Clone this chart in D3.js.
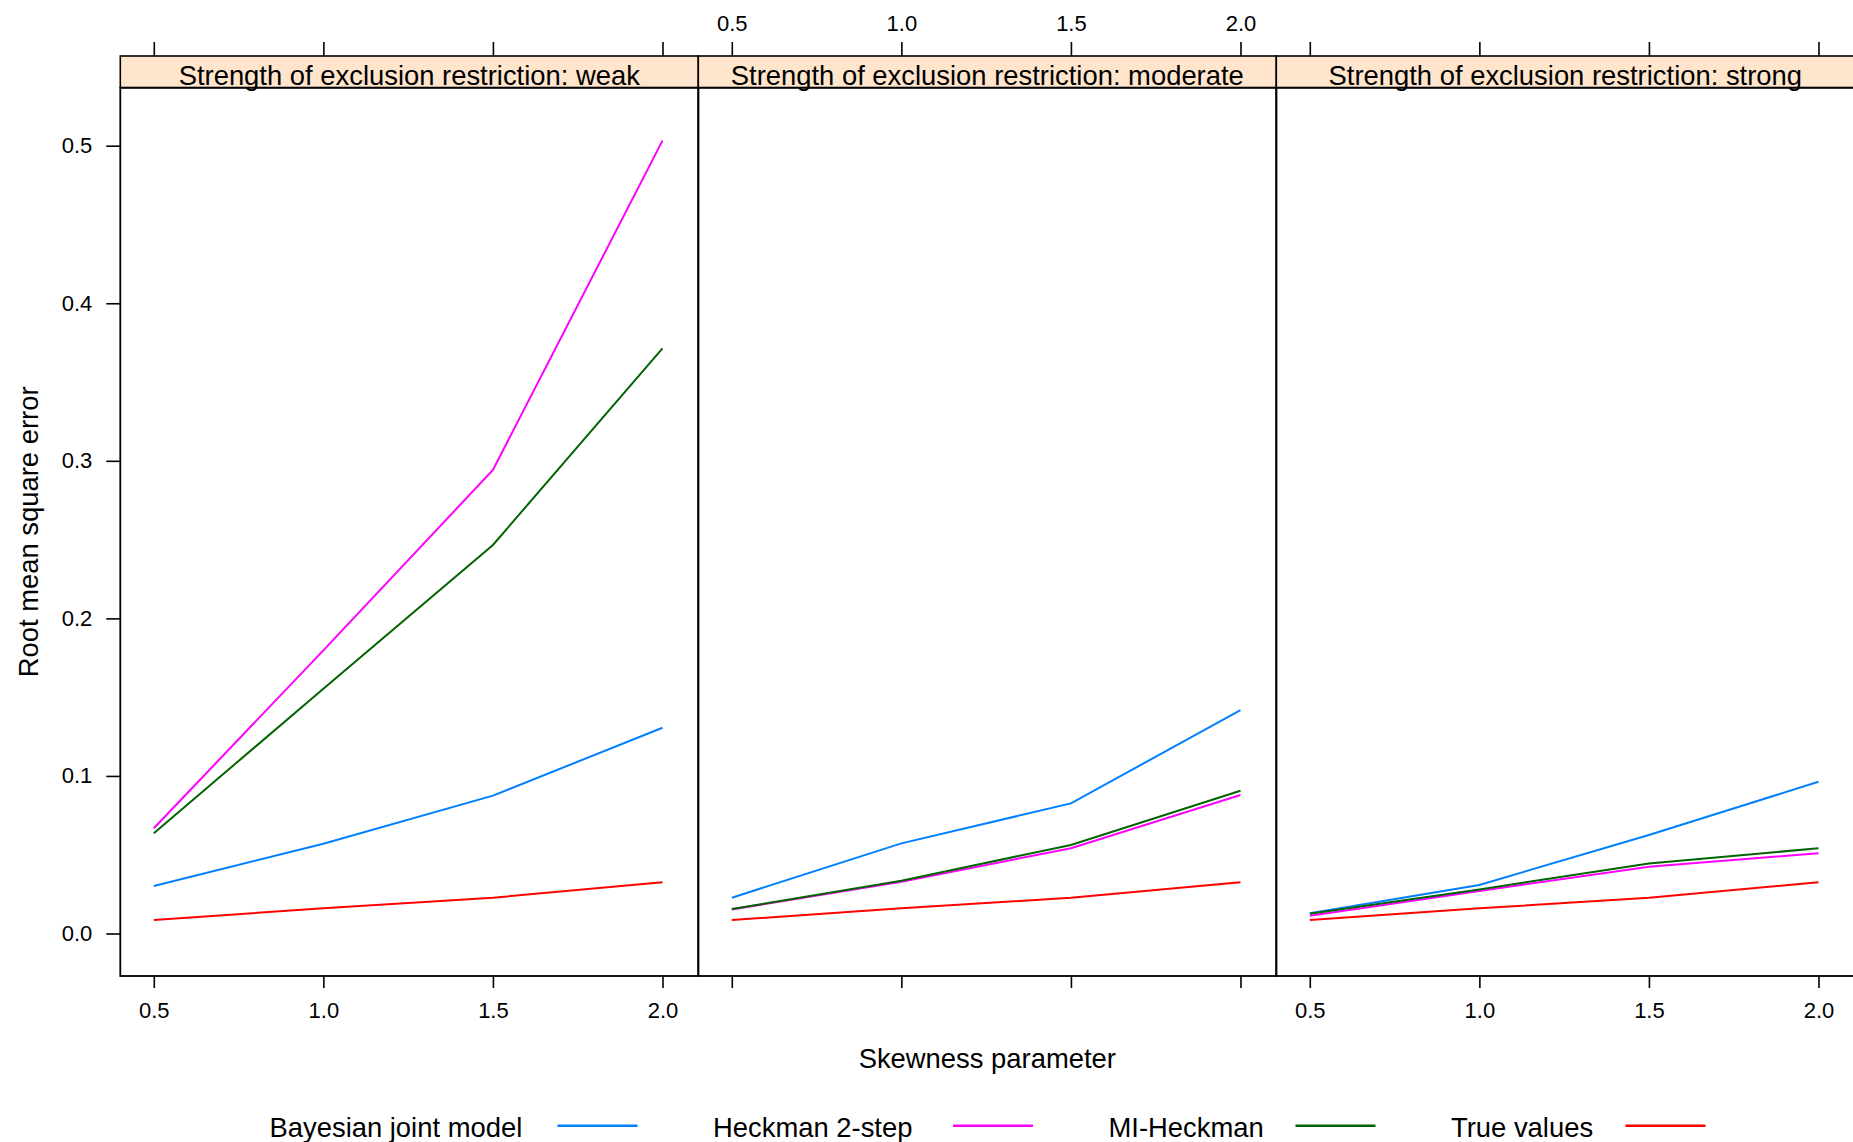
<!DOCTYPE html>
<html>
<head>
<meta charset="utf-8">
<script src="https://cdn.jsdelivr.net/npm/d3@7"></script>
<style>
  body { margin: 0; background: #fff; }
  text { font-family: "Liberation Sans", Arial, sans-serif; fill: #000; }
</style>
</head>
<body>
<svg id="chart" width="1853" height="1142"></svg>
<script>
// data
const skewness = [0.5, 1.0, 1.5, 2.0];
const strengths = ['weak', 'moderate', 'strong'];
const methods = ['Bayesian joint model', 'Heckman 2-step', 'MI-Heckman', 'True values'];
const colors = ['#0080ff', '#ff00ff', '#006400', '#ff0000'];

// one row per strength: weak, moderate, strong
const bayesian = [
  [0.0301, 0.0570, 0.0875, 0.1306],
  [0.0227, 0.0572, 0.0826, 0.1418],
  [0.0128, 0.0308, 0.0625, 0.0963]
];
const heckman = [
  [0.0668, 0.1797, 0.2942, 0.5032],
  [0.0153, 0.0329, 0.0541, 0.0879],
  [0.0113, 0.0270, 0.0424, 0.0509]
];
const miHeckman = [
  [0.0636, 0.1554, 0.2466, 0.3714],
  [0.0155, 0.0335, 0.0562, 0.0906],
  [0.0125, 0.0280, 0.0445, 0.0541]
];
const trueValues = [
  [0.0086, 0.0160, 0.0227, 0.0325],
  [0.0086, 0.0160, 0.0227, 0.0325],
  [0.0086, 0.0160, 0.0227, 0.0325]
];
const xTicks = [0.5, 1.0, 1.5, 2.0];
const yTicks = [0.0, 0.1, 0.2, 0.3, 0.4, 0.5];

const series = [bayesian, heckman, miHeckman, trueValues];

// layout
const left = 120.3, panelW = 578, stripTop = 56, stripH = 31.7, panelBottom = 976;
const plotTop = stripTop + stripH;
const bigFont = 27.4, tickFont = 22;
// legend columns (text start, key line start)
const legendText = [269.5, 713, 1108.5, 1451];
const legendLine = [557.5, 953, 1295.5, 1625.5];

const svg = d3.select('#chart');

const x = d3.scaleLinear().domain([0.4012, 2.1056]).range([0, panelW]);
const y = d3.scaleLinear().domain([-0.02697, 0.53681]).range([panelBottom, plotTop]);

const line = d3.line().x(d => x(d[0])).y(d => y(d[1]));
const fmt = d3.format('.1f');

function styleAxis(g) {
  g.select('.domain').remove();
  g.selectAll('.tick line').attr('stroke', '#000').attr('stroke-width', 1.6);
  g.selectAll('.tick text').style('font-size', tickFont + 'px').attr('fill', '#000');
}

strengths.forEach((s, pi) => {
  const px = left + pi * panelW;
  const g = svg.append('g').attr('transform', `translate(${px},0)`);

  // lines
  series.forEach((arr, mi) => {
    g.append('path')
      .datum(skewness.map((k, i) => [k, arr[pi][i]]))
      .attr('d', line)
      .attr('fill', 'none')
      .attr('stroke', colors[mi])
      .attr('stroke-width', 2);
  });

  // strip
  g.append('rect')
    .attr('x', 0).attr('y', stripTop)
    .attr('width', panelW).attr('height', stripH)
    .attr('fill', '#ffe5cc').attr('stroke', '#000').attr('stroke-width', 1.6);
  g.append('text')
    .attr('x', panelW / 2).attr('y', stripTop + 29)
    .attr('text-anchor', 'middle')
    .style('font-size', bigFont + 'px')
    .text('Strength of exclusion restriction: ' + s);

  // panel frame
  g.append('rect')
    .attr('x', 0).attr('y', plotTop)
    .attr('width', panelW).attr('height', panelBottom - plotTop)
    .attr('fill', 'none').attr('stroke', '#000').attr('stroke-width', 1.8);

  // bottom axis: labels on panels 1 and 3
  const bottom = d3.axisBottom(x).tickValues(xTicks).tickSize(12).tickPadding(14.4)
    .tickFormat(pi === 1 ? '' : fmt);
  g.append('g').attr('transform', `translate(0,${panelBottom})`).call(bottom).call(styleAxis);

  // top axis: labels on panel 2
  const top = d3.axisTop(x).tickValues(xTicks).tickSize(14).tickPadding(11.3)
    .tickFormat(pi === 1 ? fmt : '');
  g.append('g').attr('transform', `translate(0,${stripTop})`).call(top).call(styleAxis);

  if (pi === 0) {
    const yAxis = d3.axisLeft(y).tickValues(yTicks).tickSize(14).tickPadding(14).tickFormat(fmt);
    g.append('g').call(yAxis).call(styleAxis);
  }
});

// axis titles
svg.append('text')
  .attr('x', left + 1.5 * panelW).attr('y', 1068)
  .attr('text-anchor', 'middle')
  .style('font-size', bigFont + 'px')
  .text('Skewness parameter');

svg.append('text')
  .attr('transform', `translate(38,${(plotTop + panelBottom) / 2}) rotate(-90)`)
  .attr('text-anchor', 'middle')
  .style('font-size', bigFont + 'px')
  .text('Root mean square error');

// legend
methods.forEach((m, i) => {
  svg.append('text')
    .attr('x', legendText[i]).attr('y', 1137)
    .style('font-size', bigFont + 'px')
    .text(m);
  svg.append('line')
    .attr('x1', legendLine[i]).attr('x2', legendLine[i] + 80)
    .attr('y1', 1125.7).attr('y2', 1125.7)
    .attr('stroke', colors[i]).attr('stroke-width', 2.5);
});
</script>
</body>
</html>
